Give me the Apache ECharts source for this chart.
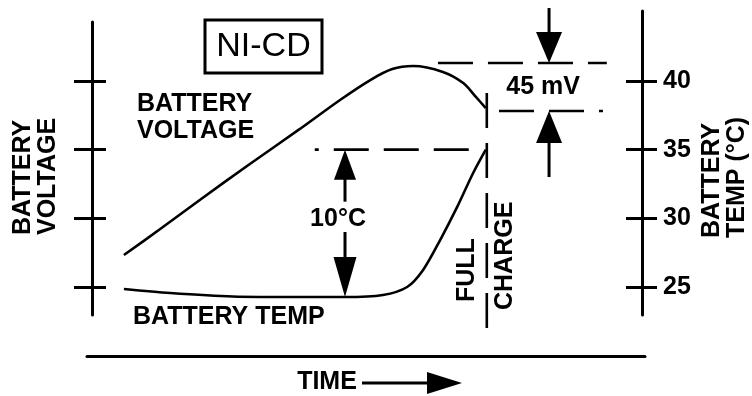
<!DOCTYPE html>
<html>
<head>
<meta charset="utf-8">
<title>NI-CD charge curve</title>
<script src="https://cdn.jsdelivr.net/npm/echarts@6/dist/echarts.min.js"></script>
<style>
  html, body { margin: 0; padding: 0; background: #ffffff; }
  #chart { width: 752px; height: 396px; }
</style>
</head>
<body>
<div id="chart"></div>
<script>
// Charge time, arbitrary units (0 = left axis, 100 = right axis)
const voltageTime  = [5.8, 12.4, 19.6, 28.7, 37.8, 45.1, 50.6, 54.6, 58.4, 63.8, 67.5, 69.8, 71.6];
// Battery voltage, drawn on the unlabelled left scale
const voltageLevel = [27.33, 29.22, 31.34, 33.96, 36.51, 38.62, 40.07, 40.87, 41.09, 40.66, 39.85, 38.84, 38.03];

const tempTime  = [5.8, 14.2, 25.6, 37.8, 46.0, 52.9, 57.3, 60.2, 63.3, 66.4, 69.3, 71.6];
// Battery temperature, °C
const tempValue = [24.85, 24.56, 24.31, 24.27, 24.27, 24.42, 25.0, 26.24, 28.42, 30.83, 33.30, 35.0];

const tempTicks      = [25, 30, 35, 40];
const tempTickLabels = ['25', '30', '35', '40'];

const INK  = '#000000';
const FONT = '"Liberation Sans", Arial, Helvetica, sans-serif';

const zip = (xs, ys) => xs.map((x, i) => [x, ys[i]]);

// Key levels taken from the curves
const vPeak = Math.max(...voltageLevel);
const vEnd  = voltageLevel[voltageLevel.length - 1];
const tFull = tempTime[tempTime.length - 1];
const tTop  = tempValue[tempValue.length - 1];
const tLow  = Math.min(...tempValue);

// Annotation placement along the time axis
const tenArrowT = 46.0;
const mvArrowT  = 83.1;

function vArrow(x, tipY, tailY, headLen, headW) {
  const d = tipY > tailY ? 1 : -1;
  const baseY = tipY - d * headLen;
  return [
    { type: 'line', shape: { x1: x, y1: tailY, x2: x, y2: baseY + d * 2 },
      style: { stroke: INK, lineWidth: 3 } },
    { type: 'polygon', shape: { points: [[x, tipY], [x - headW / 2, baseY], [x + headW / 2, baseY]] },
      style: { fill: INK } }
  ];
}

function dashed(a, b) {
  return { type: 'line', shape: { x1: a[0], y1: a[1], x2: b[0], y2: b[1] },
    style: { stroke: INK, lineWidth: 2.6, lineDash: [35, 15] } };
}

function label(text, x, y) {
  return { type: 'text', x: x, y: y,
    style: { text: text, fill: INK, font: 'bold 25px ' + FONT, align: 'center', verticalAlign: 'middle' } };
}

function renderNotes(params, api) {
  const P = (t, v) => api.coord([t, v]);
  const kids = [];

  // 35 °C reference and the 10 °C rise
  const yTop = P(0, tTop)[1];
  const yLow = P(0, tLow)[1];
  kids.push(dashed(P(68.5, tTop), P(40.5, tTop)));
  const xa = P(tenArrowT, 0)[0];
  kids.push(...vArrow(xa, yTop, yTop + 52, 30, 22));
  kids.push(...vArrow(xa, yLow, yLow - 65, 40, 23));
  kids.push(label('10°C', xa - 7, (yTop + yLow) / 2 - 4));

  // Voltage drop after the peak
  const yPk = P(0, vPeak)[1] - 3;
  const yEn = P(0, vEnd)[1] + 3;
  kids.push(dashed([P(62.9, 0)[0], yPk], [P(93.6, 0)[0], yPk]));
  kids.push(dashed([P(74.0, 0)[0], yEn], [P(92.9, 0)[0], yEn]));
  const xm = P(mvArrowT, 0)[0];
  kids.push(...vArrow(xm, yPk, yPk - 55, 31, 26));
  kids.push(...vArrow(xm, yEn, yEn + 66, 32, 26));
  kids.push(label('45 mV', xm - 6, (yPk + yEn) / 2));

  // Full-charge marker
  const xf = P(tFull, 0)[0] + 1;
  kids.push(dashed([xf, P(0, 39.13)[1]], [xf, P(0, 22.0)[1]]));

  return { type: 'group', children: kids };
}

const axisLineStyle = { color: INK, width: 3 };

const option = {
  animation: false,
  backgroundColor: '#ffffff',
  grid: [
    { left: 92, right: 110, top: 22, bottom: 81, containLabel: false, outerBoundsMode: 'none' },
    { left: 92, right: 110, top: 11, bottom: 81, containLabel: false, outerBoundsMode: 'none' },
    { left: 87, right: 107, top: 330, bottom: 40, containLabel: false, outerBoundsMode: 'none' }
  ],
  xAxis: [
    { gridIndex: 0, type: 'value', min: 0, max: 100, show: false },
    { gridIndex: 1, type: 'value', min: 0, max: 100, show: false },
    { gridIndex: 2, type: 'value', min: 0, max: 1, position: 'bottom',
      axisLine: { show: true, onZero: false, lineStyle: axisLineStyle },
      axisTick: { show: false }, axisLabel: { show: false }, splitLine: { show: false } }
  ],
  yAxis: [
    // left scale: line with ticks crossing it
    { gridIndex: 0, type: 'value', position: 'left', min: 22.961, max: 44.297,
      axisLine: { show: true, onZero: false, lineStyle: axisLineStyle },
      axisTick: { show: true, inside: false, length: 18, customValues: tempTicks, lineStyle: axisLineStyle },
      axisLabel: { show: false }, splitLine: { show: false } },
    { gridIndex: 0, type: 'value', position: 'left', min: 22.961, max: 44.297,
      axisLine: { show: false, onZero: false },
      axisTick: { show: true, inside: true, length: 14, customValues: tempTicks, lineStyle: axisLineStyle },
      axisLabel: { show: false }, splitLine: { show: false } },
    // right temperature scale
    { gridIndex: 1, type: 'value', position: 'right', min: 22.961, max: 45.10,
      axisLine: { show: true, onZero: false, lineStyle: axisLineStyle },
      axisTick: { show: true, inside: true, length: 16, customValues: tempTicks, lineStyle: axisLineStyle },
      axisLabel: { show: true, customValues: tempTicks, margin: 21, color: INK,
        fontFamily: FONT, fontWeight: 'bold', fontSize: 25, padding: [0, 0, 7, 0],
        formatter: v => tempTickLabels[tempTicks.indexOf(v)] },
      splitLine: { show: false } },
    { gridIndex: 1, type: 'value', position: 'right', min: 22.961, max: 45.10,
      axisLine: { show: false, onZero: false },
      axisTick: { show: true, inside: false, length: 15, customValues: tempTicks, lineStyle: axisLineStyle },
      axisLabel: { show: false }, splitLine: { show: false } },
    { gridIndex: 2, type: 'value', show: false }
  ],
  series: [
    { name: 'Battery voltage', type: 'line', xAxisIndex: 0, yAxisIndex: 0,
      data: zip(voltageTime, voltageLevel), smooth: 0.3,
      showSymbol: false, lineStyle: { color: INK, width: 2.6 }, silent: true },
    { name: 'Battery temp', type: 'line', xAxisIndex: 0, yAxisIndex: 0,
      data: zip(tempTime, tempValue), smooth: 0.3,
      showSymbol: false, lineStyle: { color: INK, width: 2.6 }, silent: true },
    { name: 'notes', type: 'custom', xAxisIndex: 0, yAxisIndex: 0, clip: false, silent: true,
      data: [[50, 30]], renderItem: renderNotes }
  ],
  graphic: [
    // chemistry tag
    { type: 'rect', shape: { x: 205, y: 20, width: 117, height: 53 },
      style: { fill: '#ffffff', stroke: INK, lineWidth: 3 } },
    { type: 'text', x: 263.5, y: 46.5,
      style: { text: 'NI-CD', fill: INK, font: '34px ' + FONT, align: 'center', verticalAlign: 'middle' } },
    // curve names
    { type: 'text', x: 137, y: 117.5,
      style: { text: 'BATTERY\nVOLTAGE', fill: INK, font: 'bold 25px ' + FONT, lineHeight: 27,
        align: 'left', verticalAlign: 'middle' } },
    { type: 'text', x: 133, y: 317.5,
      style: { text: 'BATTERY TEMP', fill: INK, font: 'bold 25px ' + FONT, align: 'left', verticalAlign: 'middle' } },
    // full-charge caption
    { type: 'text', x: 467, y: 302, rotation: Math.PI / 2,
      style: { text: 'FULL', fill: INK, font: 'bold 25px ' + FONT, align: 'left', verticalAlign: 'middle' } },
    { type: 'text', x: 505, y: 310, rotation: Math.PI / 2,
      style: { text: 'CHARGE', fill: INK, font: 'bold 25px ' + FONT, align: 'left', verticalAlign: 'middle' } },
    // axis titles
    { type: 'text', x: 23, y: 235, rotation: Math.PI / 2,
      style: { text: 'BATTERY', fill: INK, font: 'bold 25px ' + FONT, align: 'left', verticalAlign: 'middle' } },
    { type: 'text', x: 48, y: 235, rotation: Math.PI / 2,
      style: { text: 'VOLTAGE', fill: INK, font: 'bold 25px ' + FONT, align: 'left', verticalAlign: 'middle' } },
    { type: 'text', x: 712, y: 238, rotation: Math.PI / 2,
      style: { text: 'BATTERY', fill: INK, font: 'bold 25px ' + FONT, align: 'left', verticalAlign: 'middle' } },
    { type: 'text', x: 737, y: 238, rotation: Math.PI / 2,
      style: { text: 'TEMP (°C)', fill: INK, font: 'bold 25px ' + FONT, align: 'left', verticalAlign: 'middle' } },
    // time caption with arrow
    { type: 'text', x: 327, y: 382.5,
      style: { text: 'TIME', fill: INK, font: 'bold 25px ' + FONT, align: 'center', verticalAlign: 'middle' } },
    { type: 'line', shape: { x1: 362, y1: 383, x2: 430, y2: 383 }, style: { stroke: INK, lineWidth: 3 } },
    { type: 'polygon', shape: { points: [[427, 372], [462, 383], [427, 394]] }, style: { fill: INK } }
  ]
};

const chart = echarts.init(document.getElementById('chart'), null, { renderer: 'canvas' });
chart.setOption(option);
</script>
</body>
</html>
